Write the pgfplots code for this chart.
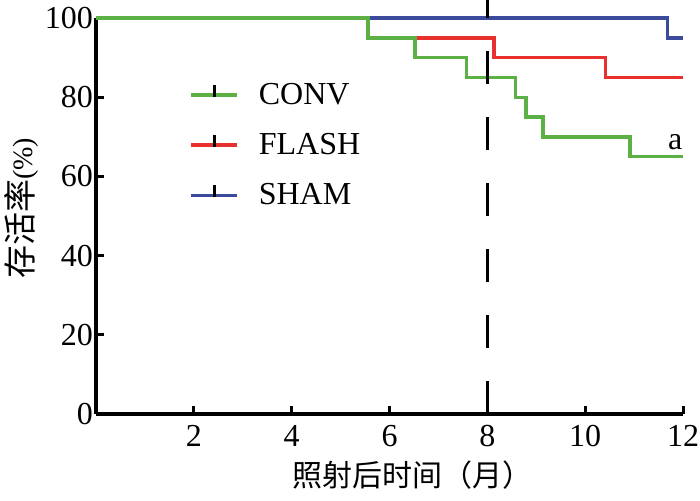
\documentclass[border=0pt]{standalone}
\usepackage{fontspec}
\setmainfont{Liberation Serif}
\newfontfamily\cjk{Noto Sans CJK SC}
\usepackage{pgfplots}
\pgfplotsset{compat=1.18}
\definecolor{cgreen}{HTML}{5CB146}
\definecolor{cred}{HTML}{E8312F}
\definecolor{cblue}{HTML}{3B4A9B}
\newcommand{\fs}{\fontsize{16}{19}\selectfont}
\begin{document}
\begin{tikzpicture}
\begin{axis}[
  scale only axis,
  width=293.5pt, height=198pt,
  at={(0,0)}, anchor=south west,
  xmin=0, xmax=12, ymin=0, ymax=100,
  axis x line=bottom, axis y line=left,
  axis line style={-, line width=1.6pt, black},
  xtick={2,4,...,12}, ytick={0,20,...,100},
  tick align=inside, major tick length=4pt,
  tick style={line width=1.5pt, black},
  /pgf/number format/assume math mode=true,
  tick label style={font=\fs},
  xticklabel style={yshift=-2pt},
  yticklabel style={xshift=2pt},
  every axis x label/.style={at={(axis description cs:0.54,0)}, yshift=-30.5pt, anchor=center},
  every axis y label/.style={at={(axis description cs:0,0.519)}, xshift=-37pt, rotate=90, anchor=center},
  label style={font=\fs},
  xlabel={\cjk\fontsize{15}{18}\selectfont 照射后时间（月）},
  ylabel={{\cjk\fontsize{16.5}{19}\selectfont 存活率}{\fontsize{14}{16}\selectfont(\%)}},
  clip=false,
  reverse legend,
  legend image code/.code={
    \draw[#1, line width=1.7pt] (0pt,0pt) -- (23pt,0pt);
    \draw[black, line width=1.5pt] (11.5pt,-1pt) -- (11.5pt,5pt);
  },
  legend style={draw=none, fill=none, at={(0.1585,0.679)}, anchor=west,
    font=\fs, inner sep=0pt, row sep=9pt,
    /tikz/every odd column/.append style={column sep=8pt}},
  legend cell align=left,
]
\addplot[cblue, line width=1.7pt, const plot] coordinates {(0,100) (11.68,95) (12,95)};
\addlegendentry{SHAM}
\addplot[cred, line width=1.7pt, const plot] coordinates {(0,100) (5.56,95) (8.14,90) (10.41,85) (12,85)};
\addlegendentry{FLASH}
\addplot[cgreen, line width=1.7pt, const plot] coordinates {(0,100) (5.56,95) (6.52,90) (7.58,85) (8.57,80) (8.79,75) (9.14,70) (10.92,65) (12,65)};
\addlegendentry{CONV}
\addplot[black, line width=1.6pt, dash pattern=on 16.5pt off 16.5pt, forget plot] coordinates {(8,0) (8,104.5)};
\node[font=\fs] at (axis cs:11.84,68.7) {a};
\end{axis}
\pgfresetboundingbox
\path[use as bounding box] (-48pt,-43pt) rectangle (302pt,207pt);
\end{tikzpicture}
\end{document}
